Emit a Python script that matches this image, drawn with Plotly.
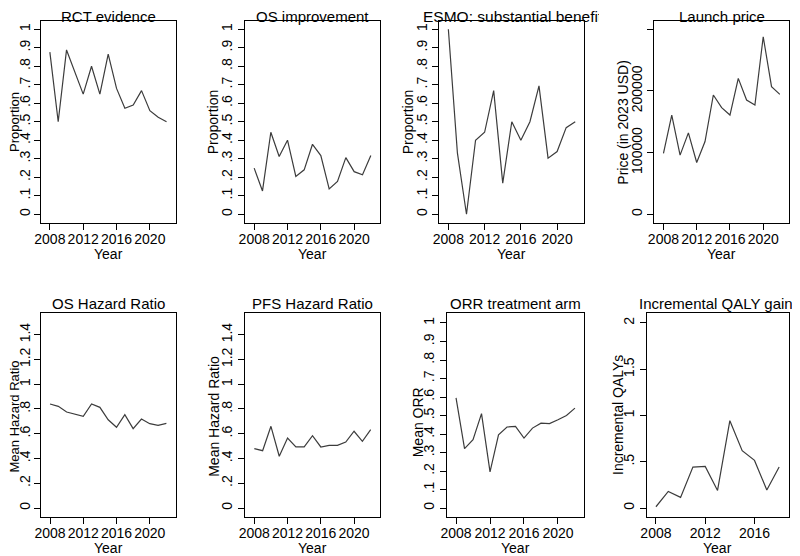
import plotly.graph_objects as go

years = list(range(2008, 2023))
qaly_years = list(range(2008, 2019))

rct_evidence = [0.876, 0.50, 0.888, 0.77, 0.649, 0.80, 0.649, 0.865, 0.68, 0.573, 0.59, 0.668, 0.56, 0.524, 0.50]
os_improvement = [0.249, 0.126, 0.443, 0.312, 0.40, 0.204, 0.24, 0.378, 0.317, 0.137, 0.177, 0.306, 0.23, 0.213, 0.317]
esmo_benefit = [1.0, 0.33, 0.0, 0.40, 0.443, 0.668, 0.168, 0.50, 0.40, 0.50, 0.694, 0.303, 0.339, 0.468, 0.50]
launch_price = [99000, 161000, 96000, 132000, 84000, 118000, 193500, 173000, 161000, 220500, 185400, 177300, 288000, 207000, 194600]
os_hr = [0.84, 0.821, 0.775, 0.759, 0.74, 0.84, 0.813, 0.713, 0.652, 0.754, 0.641, 0.719, 0.681, 0.668, 0.684]
pfs_hr = [0.479, 0.463, 0.66, 0.418, 0.565, 0.493, 0.493, 0.584, 0.493, 0.506, 0.506, 0.533, 0.62, 0.539, 0.633]
orr_arm = [0.595, 0.321, 0.369, 0.51, 0.195, 0.396, 0.438, 0.441, 0.378, 0.432, 0.459, 0.456, 0.477, 0.50, 0.54]
qaly_gain = [0.014, 0.18, 0.115, 0.443, 0.45, 0.19, 0.944, 0.62, 0.515, 0.195, 0.443]

titles = ["RCT evidence", "OS improvement", "ESMO: substantial benefit", "Launch price",
          "OS Hazard Ratio", "PFS Hazard Ratio", "ORR treatment arm", "Incremental QALY gain"]
ytitles = ["Proportion", "Proportion", "Proportion", "Price (in 2023 USD)",
           "Mean Hazard Ratio", "Mean Hazard Ratio", "Mean ORR", "Incremental QALYs"]
xtitle = "Year"

prop_vals = [0, .1, .2, .3, .4, .5, .6, .7, .8, .9, 1]
prop_text = ["0", ".1", ".2", ".3", ".4", ".5", ".6", ".7", ".8", ".9", "1"]
hr_vals = [0, .2, .4, .6, .8, 1, 1.2, 1.4]
hr_text = ["0", ".2", ".4", ".6", ".8", "1", "1.2", "1.4"]
price_vals = [0, 100000, 200000, 300000]
price_text = ["0", "100000", "200000", "300000"]
qaly_vals = [0, .5, 1, 1.5, 2]
qaly_text = ["0", ".5", "1", "1.5", "2"]
year_ticks = [2008, 2012, 2016, 2020]
qaly_year_ticks = [2008, 2012, 2016]

series = [
    (years, rct_evidence, prop_vals, prop_text, [-0.049, 1.046], year_ticks, [2006.9, 2023.1]),
    (years, os_improvement, prop_vals, prop_text, [-0.049, 1.046], year_ticks, [2006.9, 2023.1]),
    (years, esmo_benefit, prop_vals, prop_text, [-0.049, 1.046], year_ticks, [2007.0, 2023.0]),
    (years, launch_price, price_vals, price_text, [-14600, 314000], year_ticks, [2006.9, 2023.1]),
    (years, os_hr, hr_vals, hr_text, [-0.075, 1.575], year_ticks, [2006.88, 2023.12]),
    (years, pfs_hr, hr_vals, hr_text, [-0.075, 1.575], year_ticks, [2006.88, 2023.12]),
    (years, orr_arm, prop_vals, prop_text, [-0.05, 1.054], year_ticks, [2006.9, 2023.1]),
    (qaly_years, qaly_gain, qaly_vals, qaly_text, [-0.1, 2.108], qaly_year_ticks, [2007.25, 2018.8]),
]

W, H = 800, 556
OFF = 8  # page body margin compensation
# plot boxes in target pixels: (left, right, top, bottom)
boxes = [
    (40.7, 175.7, 20.7, 223.3), (245, 380, 20.7, 223.3), (439.3, 584.3, 20.7, 223.3), (654.3, 789, 20.7, 223.3),
    (40.7, 175.7, 313, 517.3), (245, 380, 313, 517.3), (446.7, 584.3, 313, 517.3), (646.7, 789, 313, 517.3),
]
title_x = [108.2, 312.5, None, 721.6, 108.2, 312.5, 515.5, 716]
title_y = [16.5, 16.5, 16.5, 16.5, 303, 303, 303, 303]
ytitle_pos = [(14, 122), (213.3, 122), (408.3, 122), (622.7, 122),
              (14, 416.5), (213.3, 416.5), (418.3, 422), (617.3, 414.7)]
ytitle_size = [13, 14, 14, 14, 13, 14, 14, 14]
ylab_standoff = [-2, 0, 0, 0, -2, 0, 0, 0]


def px(x):
    return (x - OFF) / W


def py(y):
    return 1 - (y - OFF) / H


FONT = "Liberation Sans"
fig = go.Figure()
layout = dict(
    width=W, height=H, autosize=False, margin=dict(l=0, r=0, t=0, b=0, pad=0, autoexpand=False),
    paper_bgcolor="white", plot_bgcolor="white", showlegend=False,
    font=dict(family=FONT, size=14, color="black"),
)
annotations = []
for i, (xs, ys, yv, yt, yr, xt, xr) in enumerate(series):
    n = i + 1
    xa = "x" if n == 1 else f"x{n}"
    ya = "y" if n == 1 else f"y{n}"
    fig.add_trace(go.Scatter(x=xs, y=ys, mode="lines", xaxis=xa, yaxis=ya,
                             line=dict(color="#3c3c3c", width=1.2), hoverinfo="skip"))
    l, r, t, b = boxes[i]
    common = dict(showline=True, mirror=True, linecolor="black", linewidth=1, automargin=False,
                  ticks="outside", ticklen=6, tickwidth=1, tickcolor="black",
                  showgrid=False, zeroline=False, tickfont=dict(size=14, family=FONT))
    layout["xaxis" if n == 1 else f"xaxis{n}"] = dict(
        common, domain=[px(l), px(r)], anchor=ya, range=xr, tickvals=xt, tickangle=0,
        ticktext=[str(v) for v in xt], ticklabelstandoff=-3)
    layout["yaxis" if n == 1 else f"yaxis{n}"] = dict(
        common, domain=[py(b), py(t)], anchor=xa, range=yr, tickvals=yv,
        ticktext=yt, tickangle=-90, ticklabelstandoff=ylab_standoff[i])
    # panel title
    ty = title_y[i]
    if i == 2:
        annotations.append(dict(text=titles[i], xref="paper", yref="paper", x=px(421), y=py(ty),
                                xanchor="left", yanchor="middle", showarrow=False, width=176, align="left",
                                font=dict(size=15.5, family=FONT)))
    else:
        annotations.append(dict(text=titles[i], xref="paper", yref="paper", x=px(title_x[i]), y=py(ty),
                                xanchor="center", yanchor="middle", showarrow=False,
                                font=dict(size=15, family=FONT)))
    # x axis title
    xty = 254 if i < 4 else 547.5
    annotations.append(dict(text=xtitle, xref="paper", yref="paper", x=px((l + r) / 2), y=py(xty),
                            xanchor="center", yanchor="middle", showarrow=False,
                            font=dict(size=14, family=FONT)))
    # y axis title
    yx, yy = ytitle_pos[i]
    annotations.append(dict(text=ytitles[i], xref="paper", yref="paper", x=px(yx), y=py(yy),
                            xanchor="center", yanchor="middle", showarrow=False, textangle=-90,
                            font=dict(size=ytitle_size[i], family=FONT)))
layout["annotations"] = annotations
fig.update_layout(**layout)
fig.write_html("out.html")
